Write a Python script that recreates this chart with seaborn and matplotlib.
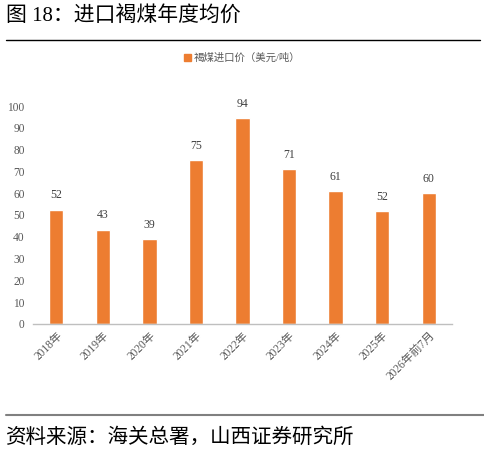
import matplotlib
matplotlib.use("Agg")
import matplotlib.pyplot as plt
from matplotlib.lines import Line2D
from matplotlib.patches import Patch
import pandas as pd
import seaborn as sns

categories = ["2018年", "2019年", "2020年", "2021年", "2022年", "2023年", "2024年", "2025年", "2026年前7月"]
prices = [52.4, 43.2, 38.8, 75.2, 94.3, 71.1, 61.0, 51.8, 60.1]
labels = ["52", "43", "39", "75", "94", "71", "61", "52", "60"]
yticks = [0, 10, 20, 30, 40, 50, 60, 70, 80, 90, 100]

ORANGE = "#ED7D31"
GREY_TXT = "#595959"

sns.set_theme(style="white")
plt.rcParams["font.family"] = ["Liberation Serif", "Noto Sans CJK SC", "DejaVu Sans"]

fig = plt.figure(figsize=(4.85, 4.55), dpi=100)
ax = fig.add_axes([0.068, 0.288, 0.864, 0.479])

df = pd.DataFrame({"cat": categories, "price": prices})
sns.barplot(data=df, x="cat", y="price", color=ORANGE, saturation=1, width=0.31, ax=ax)

for i, (v, t) in enumerate(zip(prices, labels)):
    ax.annotate(t, (i, v), xytext=(0, 6), textcoords="offset points",
                ha="center", va="bottom", fontsize=8.5, color="#404040")

ax.set_ylim(0, 100)
ax.set_xlim(-0.5, len(categories) - 0.5)
ax.set_yticks(yticks)
ax.set_xlabel("")
ax.set_ylabel("")
for s in ["top", "right", "left"]:
    ax.spines[s].set_visible(False)
ax.spines["bottom"].set_color("#BFBFBF")
ax.spines["bottom"].set_linewidth(1.0)
ax.tick_params(axis="both", length=0, labelsize=8.3, colors=GREY_TXT, pad=6)
ax.set_xticks(range(len(categories)))
ax.set_xticklabels(categories, rotation=45, ha="right", rotation_mode="anchor")
ax.tick_params(axis="x", pad=4)

# legend
ax.legend(handles=[Patch(color=ORANGE)], labels=["褐煤进口价（美元/吨）"],
          loc="center", frameon=False, fontsize=7.5, handlelength=0.6, handleheight=0.6,
          handletextpad=0.3, labelcolor=GREY_TXT)
ax.get_legend().set_bbox_to_anchor((0.5, 1 - 58 / 455), transform=fig.transFigure)

# title, rules and source
fig.text(0.012, 1 - 17 / 455, "图 18：进口褐煤年度均价", fontsize=15, va="center", ha="left",
         color="black", family=["Liberation Serif", "Noto Sans CJK SC"])
fig.add_artist(Line2D([0.012, 0.99], [1 - 40 / 455] * 2, color="black", lw=1.0))
fig.add_artist(Line2D([0.012, 1.0], [1 - 415 / 455] * 2, color="#808080", lw=1.5))
fig.text(0.012, 1 - 437 / 455, "资料来源：海关总署，山西证券研究所", fontsize=14.8, va="center", ha="left",
         color="black", family=["Noto Sans CJK SC"])

fig.savefig("out.png", dpi=100)
